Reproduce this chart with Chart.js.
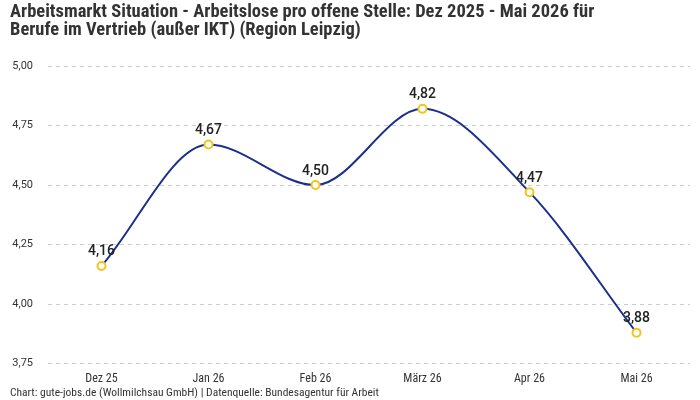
<!DOCTYPE html>
<html><head><meta charset="utf-8">
<script src="https://cdn.jsdelivr.net/npm/chart.js@4"></script>
<style>html,body{margin:0;padding:0;background:#fff}#wrap{width:700px;height:400px}</style>
</head><body><div id="wrap"><canvas id="c" width="700" height="400"></canvas></div>
<script>
const categories = ["Dez 25","Jan 26","Feb 26","März 26","Apr 26","Mai 26"];
const values = [4.16,4.67,4.50,4.82,4.47,3.88];
const yTicks = [3.75,4.00,4.25,4.50,4.75,5.00];
const titleLines = ["Arbeitsmarkt Situation - Arbeitslose pro offene Stelle: Dez 2025 - Mai 2026 für","Berufe im Vertrieb (außer IKT) (Region Leipzig)"];
const footer = "Chart: gute-jobs.de (Wollmilchsau GmbH) | Datenquelle: Bundesagentur für Arbeit";
const condensed = '"Roboto Condensed","Liberation Sans Narrow",Roboto,sans-serif';
const fmt = v => v.toFixed(2).replace('.', ',');

const labelPlugin = {
  id:'labels',
  afterDatasetsDraw(chart){
    const ctx = chart.ctx;
    const meta = chart.getDatasetMeta(0);
    ctx.save();
    ctx.font = '500 14px Roboto, sans-serif';
    ctx.fillStyle = '#222';
    ctx.textAlign = 'center';
    ctx.textBaseline = 'bottom';
    meta.data.forEach((p,i)=>{ ctx.fillText(fmt(values[i]), p.x, p.y - 7); });
    ctx.restore();
  },
  afterDraw(chart){
    const ctx = chart.ctx;
    ctx.save();
    ctx.font = '11.5px ' + condensed;
    ctx.fillStyle = '#333';
    ctx.textAlign = 'left';
    ctx.textBaseline = 'middle';
    ctx.fillText(footer, 10, 393);
    ctx.restore();
  }
};

new Chart(document.getElementById('c'), {
  type:'line',
  data:{labels:categories, datasets:[{
    data:values,
    borderColor:'#1b2f8c',
    borderWidth:2,
    cubicInterpolationMode:'monotone',
    pointRadius:4,
    pointBorderWidth:2,
    pointBackgroundColor:'#ffffff',
    pointBorderColor:'#f5c31b',
    fill:false
  }]},
  options:{
    responsive:false,
    animation:false,
    layout:{padding:{left:10,right:10,top:0,bottom:14}},
    plugins:{
      legend:{display:false},
      tooltip:{enabled:false},
      title:{display:true, text:titleLines, align:'start', color:'#333',
        font:{family:condensed, size:18.5, weight:'bold', lineHeight:1.0},
        padding:{top:3,bottom:26}}
    },
    scales:{
      x:{offset:true, grid:{display:false}, border:{display:false},
        ticks:{color:'#333', font:{family:condensed,size:12}, padding:0}},
      y:{min:3.75, max:5.0,
        afterBuildTicks(s){ s.ticks = yTicks.map(v=>({value:v})); },
        afterFit(s){ s.width = 38; },
        grid:{color:'#cccccc', drawTicks:false},
        border:{display:false, dash:[4,4]},
        ticks:{color:'#333', font:{family:'Roboto, sans-serif',size:11}, padding:15, callback:v=>fmt(v)}}
    }
  },
  plugins:[labelPlugin]
});
</script></body></html>
